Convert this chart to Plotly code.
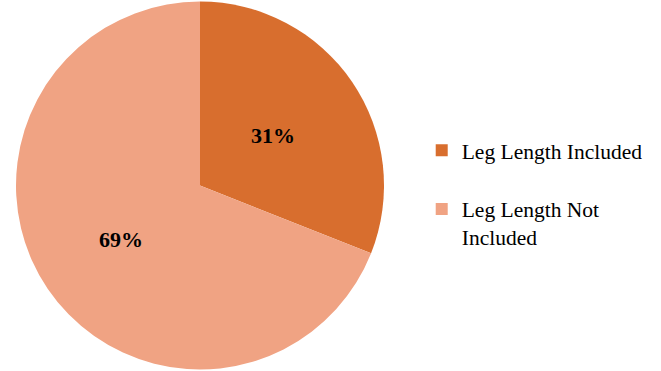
import math
import plotly.graph_objects as go

labels = ["Leg Length Included", "Leg Length Not Included"]
legend_text = ["Leg Length Included<br> ", "Leg Length Not<br>Included"]
values = [31, 69]
colors = ["#d86e2e", "#f0a383"]

# pie placement (paper fractions)
W, H = 661, 371
dom_x = [16 / W, 384 / W]
dom_y = [0.0, 1.0]
label_radius = [0.48, 0.52]  # fraction of radius where percent labels sit

fig = go.Figure(go.Pie(
    labels=legend_text,
    values=values,
    sort=False,
    direction="clockwise",
    rotation=0,
    marker=dict(colors=colors, line=dict(width=0)),
    textinfo="none",
    domain=dict(x=dom_x, y=dom_y),
    hovertext=labels,
    hoverinfo="text+percent",
))

# percent labels placed at slice mid-angles
total = sum(values)
cx = (dom_x[0] + dom_x[1]) / 2 * W
cy = H * (1 - (dom_y[0] + dom_y[1]) / 2)
r = (dom_x[1] - dom_x[0]) * W / 2
cum = 0
annotations = []
for v, rf in zip(values, label_radius):
    mid = (cum + v / 2) / total * 2 * math.pi
    cum += v
    px = cx + rf * r * math.sin(mid)
    py = cy - rf * r * math.cos(mid)
    annotations.append(dict(
        x=px / W, y=1 - py / H, xref="paper", yref="paper",
        xanchor="center", yanchor="middle",
        text="<b>%d%%</b>" % round(v / total * 100),
        showarrow=False,
        font=dict(family="Liberation Serif, Times New Roman, serif", size=22, color="black"),
    ))

fig.update_layout(
    width=W, height=H,
    margin=dict(l=0, r=0, t=0, b=0),
    paper_bgcolor="white",
    plot_bgcolor="white",
    showlegend=True,
    annotations=annotations,
    legend=dict(
        x=0.638, y=0.478, xanchor="left", yanchor="middle",
        font=dict(family="Liberation Serif, Times New Roman, serif", size=21.5, color="black"),
        valign="top",
        traceorder="normal",
        itemwidth=30,
    ),
)

fig.write_html("out.html")
